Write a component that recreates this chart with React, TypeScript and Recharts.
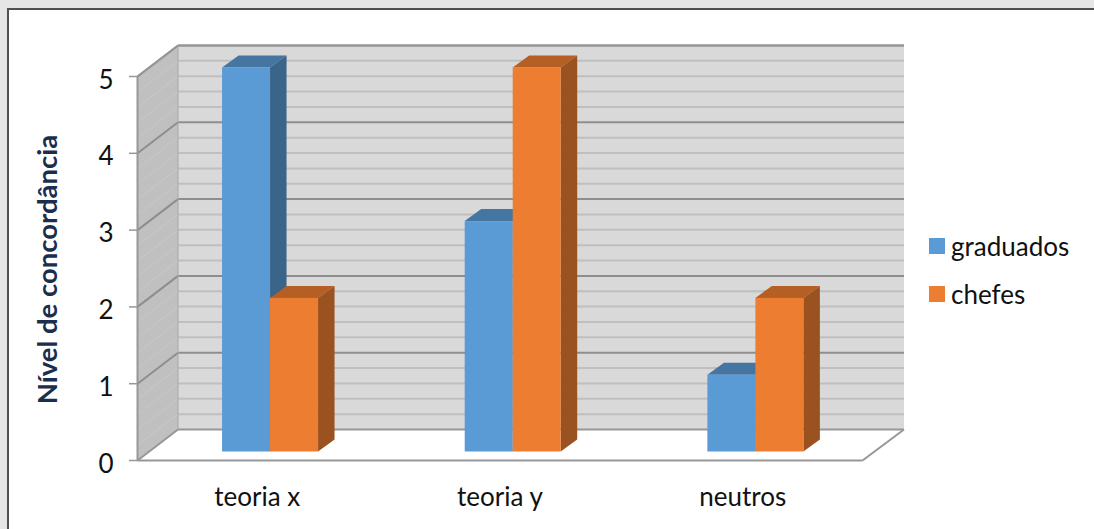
import { Bar, BarChart, Legend, ReferenceArea, XAxis, YAxis } from "recharts";

const categories = ["teoria x", "teoria y", "neutros"];
const graduados = [5, 3, 1];
const chefes = [2, 5, 2];
const yTicks = [0, 1, 2, 3, 4, 5];
const minorTicks = [
  0.2, 0.4, 0.6, 0.8, 1.2, 1.4, 1.6, 1.8, 2.2, 2.4, 2.6, 2.8, 3.2, 3.4, 3.6,
  3.8, 4.2, 4.4, 4.6, 4.8,
];
const majorTicks = [1, 2, 3, 4, 5];

const chartData = categories.map((name, i) => ({
  name,
  graduados: graduados[i],
  chefes: chefes[i],
}));

const FONT = "Lato, 'Open Sans', sans-serif";
const WIDTH = 1094;
const HEIGHT = 529;
const Y_MAX = 5;

// 3D offsets, in px
const BAR_DX = 16.5;
const BAR_DY = 12;
const WALL_LEFT = 178;
const WALL_RIGHT = 904;
const WALL_SHIFT = -22; // back wall sits above the bars' plane
const FRONT_LEFT = 137.5;
const FRONT_RIGHT = 862.5;
const FRONT_SHIFT = 9; // front edge sits below the bars' plane

const shades: Record<string, { top: string; side: string }> = {
  "#5b9bd5": { top: "#4575a1", side: "#3b6489" },
  "#ed7d31": { top: "#b55f25", side: "#9a5220" },
};

function Box3D(props: any) {
  const { x, y, width, height, fill } = props;
  const s = shades[fill];
  const r = x + width;
  const b = y + height;
  return (
    <g>
      <polygon
        points={`${x},${y} ${x + BAR_DX},${y - BAR_DY} ${r + BAR_DX},${y - BAR_DY} ${r},${y}`}
        fill={s.top}
      />
      <polygon
        points={`${r},${y} ${r + BAR_DX},${y - BAR_DY} ${r + BAR_DX},${b - BAR_DY} ${r},${b}`}
        fill={s.side}
      />
      <rect x={x} y={y} width={width} height={height} fill={fill} />
    </g>
  );
}

// walls and floor, hung off the y scale through the area's own box
function Walls(props: any) {
  const { y, height } = props;
  const at = (v: number) => y + height * (1 - v / Y_MAX);
  const back = (v: number) => at(v) + WALL_SHIFT;
  const front = (v: number) => at(v) + FRONT_SHIFT;
  return (
    <g>
      <polygon
        points={`${FRONT_LEFT},${front(0)} ${WALL_LEFT},${back(0)} ${WALL_LEFT},${back(Y_MAX)} ${FRONT_LEFT},${front(Y_MAX)}`}
        fill="#c0c0c0"
      />
      <rect
        x={WALL_LEFT}
        y={back(Y_MAX)}
        width={WALL_RIGHT - WALL_LEFT}
        height={back(0) - back(Y_MAX)}
        fill="#d9d9d9"
      />
      {minorTicks.map((v) => (
        <g key={v}>
          <line x1={FRONT_LEFT} y1={front(v)} x2={WALL_LEFT} y2={back(v)} stroke="#c8c8c8" strokeWidth={1} />
          <line x1={WALL_LEFT} y1={back(v)} x2={WALL_RIGHT} y2={back(v)} stroke="#bfbfbf" strokeWidth={2} />
        </g>
      ))}
      {majorTicks.map((v) => (
        <g key={v}>
          <line x1={FRONT_LEFT} y1={front(v)} x2={WALL_LEFT} y2={back(v)} stroke="#8e8e8e" strokeWidth={2} />
          <line x1={WALL_LEFT} y1={back(v)} x2={WALL_RIGHT} y2={back(v)} stroke="#8e8e8e" strokeWidth={2} />
        </g>
      ))}
      <line x1={WALL_LEFT} y1={back(0)} x2={WALL_RIGHT} y2={back(0)} stroke="#979797" strokeWidth={2} />
      <line x1={FRONT_LEFT} y1={front(0)} x2={WALL_LEFT} y2={back(0)} stroke="#979797" strokeWidth={2} />
      <line x1={FRONT_LEFT} y1={front(0)} x2={FRONT_RIGHT} y2={front(0)} stroke="#979797" strokeWidth={2} />
      <line x1={FRONT_RIGHT} y1={front(0)} x2={WALL_RIGHT} y2={back(0)} stroke="#979797" strokeWidth={2} />
      <line x1={FRONT_LEFT} y1={front(0)} x2={FRONT_LEFT} y2={front(Y_MAX)} stroke="#979797" strokeWidth={2} />
      <line x1={WALL_LEFT} y1={back(0)} x2={WALL_LEFT} y2={back(Y_MAX)} stroke="#a8a8a8" strokeWidth={1} />
      <line x1={FRONT_LEFT} y1={front(Y_MAX)} x2={WALL_LEFT} y2={back(Y_MAX)} stroke="#979797" strokeWidth={2} />
      <line x1={WALL_LEFT} y1={back(Y_MAX)} x2={WALL_RIGHT} y2={back(Y_MAX)} stroke="#979797" strokeWidth={2} />
    </g>
  );
}

function YTick(props: any) {
  const { y, payload } = props;
  return (
    <g>
      <line x1={129} y1={y + FRONT_SHIFT} x2={FRONT_LEFT} y2={y + FRONT_SHIFT} stroke="#979797" strokeWidth={1.5} />
      <text x={106} y={y + 21} textAnchor="middle" fontFamily={FONT} fontSize={26} fill="#111">
        {payload.value}
      </text>
    </g>
  );
}

function LegendList(props: any) {
  const items = props.payload || [];
  return (
    <div>
      {items.map((item: any) => (
        <div key={item.value} style={{ display: "flex", alignItems: "center", height: 48 }}>
          <span style={{ width: 16, height: 16, background: item.color, marginRight: 6 }} />
          <span style={{ fontFamily: FONT, fontSize: 26, color: "#111", lineHeight: "48px" }}>{item.value}</span>
        </div>
      ))}
    </div>
  );
}

export default function App() {
  return (
    <div
      style={{
        position: "absolute",
        left: 0,
        top: 0,
        width: WIDTH,
        height: HEIGHT,
        overflow: "hidden",
        background: "#e6e6e6",
      }}
    >
      <div
        style={{
          position: "absolute",
          left: 7,
          top: 8,
          width: WIDTH,
          height: HEIGHT,
          background: "#fff",
          borderLeft: "2px solid #505050",
          borderTop: "2px solid #505050",
        }}
      />
      <BarChart
        width={WIDTH}
        height={HEIGHT}
        data={chartData}
        margin={{ top: 67.5, right: 57, bottom: 17.5, left: 89 }}
        barGap={0}
        barCategoryGap="30.1%"
        style={{ position: "absolute", left: 0, top: 0 }}
      >
        <XAxis
          dataKey="name"
          height={60}
          axisLine={false}
          tickLine={false}
          tick={{ fontFamily: FONT, fontSize: 26, fill: "#111", dy: 28, dx: -13 }}
        />
        <YAxis
          domain={[0, Y_MAX]}
          ticks={yTicks}
          width={60}
          axisLine={false}
          tickLine={false}
          tick={YTick}
          label={{
            value: "Nível de concordância",
            angle: -90,
            position: "left",
            offset: 0,
            dx: -42,
            dy: 10,
            style: { fontFamily: FONT, fontSize: 27.5, fontWeight: 700, fill: "#1b2f4d", textAnchor: "middle" },
          }}
        />
        <ReferenceArea y1={0} y2={Y_MAX} shape={Walls} />
        <Legend
          layout="vertical"
          align="right"
          verticalAlign="top"
          itemSorter={null}
          wrapperStyle={{ left: 929, top: 222, width: 160 }}
          content={LegendList}
        />
        <Bar dataKey="graduados" fill="#5b9bd5" shape={Box3D} isAnimationActive={false} />
        <Bar dataKey="chefes" fill="#ed7d31" shape={Box3D} isAnimationActive={false} />
      </BarChart>
    </div>
  );
}
